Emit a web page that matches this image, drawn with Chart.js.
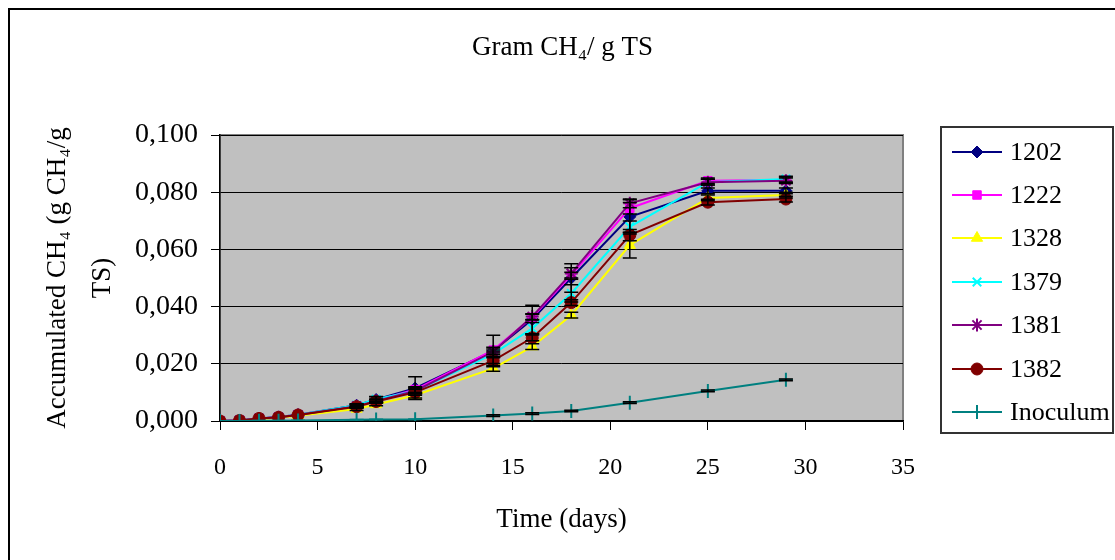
<!DOCTYPE html>
<html>
<head>
<meta charset="utf-8">
<title>Gram CH4 / g TS</title>
<script src="https://cdn.jsdelivr.net/npm/chart.js@4.4.0/dist/chart.umd.min.js"></script>
<style>
    html, body { margin: 0; padding: 0; background: #fff; overflow: hidden; }
    #wrap { position: relative; width: 1115px; height: 560px; overflow: hidden; }
    #frame { position: absolute; left: 8px; top: 8px; width: 1200px; height: 700px; border: 2px solid #000; }
    #chart { position: absolute; left: 0; top: 0; }
    #legend {
        position: absolute; left: 940px; top: 126px; width: 170px; height: 302px;
        border: 2px solid #333; background: #fff; padding-top: 2px; box-sizing: content-box;
        font-family: 'Liberation Serif', 'Times New Roman', serif; font-size: 26px; color: #000;
    }
    #legend .item { display: flex; align-items: center; height: 43.4px; }
    #legend canvas { margin-left: 10px; }
    #legend span { margin-left: 6px; }
</style>
</head>
<body>
<div id="wrap">
    <div id="frame"></div>
    <canvas id="chart" width="1115" height="560"></canvas>
    <div id="legend"></div>
</div>
<script>
// dados
const days = [0, 1, 2, 3, 4, 7, 8, 10, 14, 16, 18, 21, 25, 29];

const s1202 = [0, 0.0002, 0.0009, 0.0014, 0.0022, 0.0055, 0.0075, 0.0115, 0.0245, 0.0355, 0.0500, 0.0714, 0.0805, 0.0805];
const s1222 = [0, 0.0002, 0.0009, 0.0014, 0.0022, 0.0052, 0.0072, 0.0110, 0.0248, 0.0363, 0.0510, 0.0744, 0.0840, 0.0843];
const s1328 = [0, 0.0001, 0.0007, 0.0011, 0.0018, 0.0042, 0.0058, 0.0090, 0.0184, 0.0260, 0.0370, 0.0615, 0.0780, 0.0790];
const s1379 = [0, 0.0002, 0.0009, 0.0014, 0.0022, 0.0055, 0.0076, 0.0105, 0.0235, 0.0324, 0.0446, 0.0679, 0.0835, 0.0846];
const s1381 = [0, 0.0002, 0.0009, 0.0013, 0.0021, 0.0052, 0.0070, 0.0105, 0.0242, 0.0365, 0.0516, 0.0761, 0.0835, 0.0840];
const s1382 = [0, 0.0002, 0.0009, 0.0013, 0.0021, 0.0050, 0.0068, 0.0100, 0.0211, 0.0291, 0.0414, 0.0650, 0.0765, 0.0776];
const sInoc = [0, 0, 0.0001, 0.0001, 0.0002, 0.0004, 0.0005, 0.0006, 0.0019, 0.0026, 0.0035, 0.0064, 0.0105, 0.0144];

// barras de erro (+/-)
const e1202 = [0, 0, 0, 0, 0, 0.0005, 0.0010, 0.0040, 0.0055, 0.0050, 0.0050, 0.0060, 0.0010, 0.0010];
const e1222 = [0, 0, 0, 0, 0, 0.0005, 0.0005, 0.0010, 0.0010, 0.0010, 0.0010, 0.0020, 0.0010, 0.0010];
const e1328 = [0, 0, 0, 0, 0, 0.0005, 0.0005, 0.0010, 0.0010, 0.0010, 0.0010, 0.0045, 0.0010, 0.0010];
const e1379 = [0, 0, 0, 0, 0, 0.0005, 0.0010, 0.0010, 0.0010, 0.0020, 0.0030, 0.0020, 0.0010, 0.0010];
const e1381 = [0, 0, 0, 0, 0, 0.0005, 0.0005, 0.0010, 0.0010, 0.0010, 0.0020, 0.0015, 0.0010, 0.0010];
const e1382 = [0, 0, 0, 0, 0, 0.0005, 0.0005, 0.0010, 0.0010, 0.0010, 0.0010, 0.0020, 0.0010, 0.0010];
const eInoc = [0, 0, 0, 0, 0, 0, 0, 0, 0.0003, 0.0003, 0.0003, 0.0003, 0.0003, 0.0003];

const seriesNames = ['1202', '1222', '1328', '1379', '1381', '1382', 'Inoculum'];
const seriesValues = [s1202, s1222, s1328, s1379, s1381, s1382, sInoc];
const seriesErrors = [e1202, e1222, e1328, e1379, e1381, e1382, eInoc];

const chartTitle = 'Gram CH\u2084/ g TS';
const yTitle = ['Accumulated CH\u2084 (g CH\u2084/g', 'TS)'];
const xTitle = 'Time (days)';

// estilos
const colors = ['#000080', '#FF00FF', '#FFFF00', '#00FFFF', '#800080', '#800000', '#008080'];
const markers = ['rectRot', 'rect', 'triangle', 'crossRot', 'star', 'circle', 'cross'];
const radii = [6, 6, 6.5, 6, 6.5, 6, 7];
const serif = "'Liberation Serif', 'Times New Roman', serif";

const datasets = seriesNames.map((name, i) => ({
    label: name,
    data: days.map((d, j) => ({ x: d, y: seriesValues[i][j] })),
    errors: seriesErrors[i],
    borderColor: colors[i],
    backgroundColor: colors[i],
    pointBackgroundColor: colors[i],
    pointBorderColor: colors[i],
    pointStyle: markers[i],
    pointRadius: radii[i],
    pointBorderWidth: ['crossRot', 'star', 'cross'].includes(markers[i]) ? 2 : 1,
    borderWidth: 2,
    tension: 0,
    order: seriesNames.length - 1 - i
}));

// fundo cinza da área do gráfico
const plotBackground = {
    id: 'plotBackground',
    beforeDraw(chart) {
        const { ctx, chartArea: a } = chart;
        ctx.save();
        ctx.fillStyle = '#C0C0C0';
        ctx.fillRect(a.left, a.top, a.right - a.left, a.bottom - a.top);
        ctx.strokeStyle = '#808080';
        ctx.lineWidth = 2;
        ctx.strokeRect(a.left, a.top, a.right - a.left, a.bottom - a.top);
        ctx.restore();
    }
};

// barras de erro desenhadas pelas escalas
const errorBars = {
    id: 'errorBars',
    afterDatasetsDraw(chart) {
        const { ctx, scales: { x, y } } = chart;
        ctx.save();
        ctx.strokeStyle = '#000';
        ctx.lineWidth = 1.5;
        chart.data.datasets.forEach(ds => {
            ds.data.forEach((p, j) => {
                const e = ds.errors[j];
                if (!e) return;
                const px = x.getPixelForValue(p.x);
                const top = y.getPixelForValue(p.y + e);
                const bot = y.getPixelForValue(Math.max(0, p.y - e));
                ctx.beginPath();
                ctx.moveTo(px, top); ctx.lineTo(px, bot);
                ctx.moveTo(px - 7, top); ctx.lineTo(px + 7, top);
                ctx.moveTo(px - 7, bot); ctx.lineTo(px + 7, bot);
                ctx.stroke();
            });
        });
        ctx.restore();
    }
};

const chart = new Chart(document.getElementById('chart'), {
    type: 'line',
    data: { datasets },
    options: {
        responsive: false,
        animation: false,
        devicePixelRatio: 1,
        layout: { padding: { left: 10, right: 0, top: 0, bottom: 0 } },
        plugins: {
            legend: { display: false },
            tooltip: { enabled: false },
            title: {
                display: true,
                text: chartTitle,
                color: '#000',
                font: { family: serif, size: 27, weight: 'normal', lineHeight: 1.2 },
                padding: { top: 32, bottom: 70.6 }
            }
        },
        scales: {
            x: {
                type: 'linear',
                min: 0,
                max: 35,
                afterFit(scale) { scale.height = 139; },
                ticks: { stepSize: 5, color: '#000', padding: 23, font: { family: serif, size: 24 } },
                grid: { drawOnChartArea: false, drawTicks: true, tickLength: 9, tickColor: '#000' },
                border: { color: '#000', width: 1.5 },
                title: {
                    display: true, text: xTitle, color: '#000',
                    font: { family: serif, size: 27 },
                    padding: { top: 0, bottom: 24 }
                }
            },
            y: {
                min: 0,
                max: 0.1,
                afterFit(scale) { scale.width = 210; },
                ticks: {
                    stepSize: 0.02, color: '#000', padding: 13,
                    font: { family: serif, size: 28 },
                    callback: v => v.toFixed(3).replace('.', ',')
                },
                grid: { color: '#000', lineWidth: 1, drawTicks: true, tickLength: 9, tickColor: '#000' },
                border: { color: '#000', width: 1.5 },
                title: {
                    display: true, text: yTitle, color: '#000',
                    font: { family: serif, size: 27, lineHeight: 1.67 },
                    padding: { top: 25, bottom: 0 }
                }
            },
            // espaço reservado à direita para a legenda
            spacer: {
                type: 'linear',
                position: 'right',
                afterFit(scale) { scale.width = 212; },
                ticks: { display: false },
                grid: { display: false },
                border: { display: false }
            }
        }
    },
    plugins: [plotBackground, errorBars]
});

// legenda em HTML com linha + marcador
const legendBox = document.getElementById('legend');
chart.data.datasets.forEach(ds => {
    const item = document.createElement('div');
    item.className = 'item';
    const icon = document.createElement('canvas');
    icon.width = 52; icon.height = 18;
    const ctx = icon.getContext('2d');
    ctx.strokeStyle = ds.borderColor;
    ctx.lineWidth = 2;
    ctx.beginPath(); ctx.moveTo(0, 9); ctx.lineTo(50, 9); ctx.stroke();
    ctx.fillStyle = ds.pointBackgroundColor;
    ctx.lineWidth = ds.pointBorderWidth;
    Chart.helpers.drawPoint(ctx, { pointStyle: ds.pointStyle, radius: ds.pointRadius, rotation: 0, borderWidth: ds.pointBorderWidth }, 25, 9);
    const label = document.createElement('span');
    label.textContent = ds.label;
    item.appendChild(icon);
    item.appendChild(label);
    legendBox.appendChild(item);
});
</script>
</body>
</html>
